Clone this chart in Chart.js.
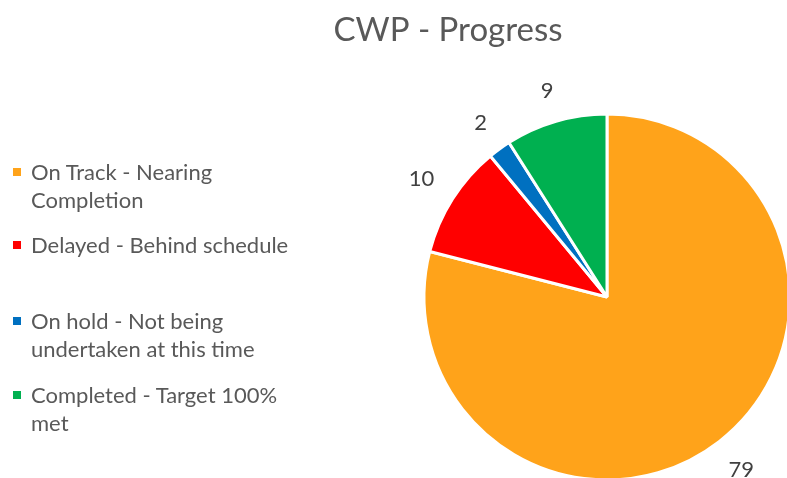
<!DOCTYPE html>
<html>
<head>
<meta charset="utf-8">
<script src="https://cdn.jsdelivr.net/npm/chart.js@4/dist/chart.umd.min.js"></script>
<style>
  html, body { margin: 0; padding: 0; width: 787px; height: 478px; overflow: hidden; background: #fff; }
  #wrap { position: relative; width: 787px; height: 478px; overflow: hidden; }
  #chart { position: absolute; left: 0; top: 0; }
  #legend { position: absolute; left: 0; top: 0; font-family: Lato, "Open Sans", sans-serif; font-size: 22px; color: #595959; }
  .item { position: absolute; left: 31px; width: 290px; line-height: 28px; }
  .item .sw { position: absolute; left: -18px; top: 10px; width: 8px; height: 8px; }
</style>
</head>
<body>
<div id="wrap">
  <canvas id="chart" width="800" height="500"></canvas>
  <div id="legend"></div>
</div>
<script>
const categories = [
  "On Track - Nearing Completion",
  "Delayed - Behind schedule",
  "On hold - Not being undertaken at this time",
  "Completed - Target 100% met"
];
const legendLines = [
  ["On Track - Nearing", "Completion"],
  ["Delayed - Behind schedule"],
  ["On hold - Not being", "undertaken at this time"],
  ["Completed - Target 100%", "met"]
];
const counts = [79, 10, 2, 9];
const colors = ["#FFA31A", "#FF0000", "#0070C0", "#00B050"];
const chartTitle = "CWP - Progress";

// HTML legend, one block per category
const legendTops = [158, 231, 307, 381];
const legend = document.getElementById("legend");
legendLines.forEach((lines, i) => {
  const el = document.createElement("div");
  el.className = "item";
  el.style.top = legendTops[i] + "px";
  el.title = categories[i];
  const sw = document.createElement("span");
  sw.className = "sw";
  sw.style.background = colors[i];
  el.appendChild(sw);
  lines.forEach((t, k) => {
    if (k) el.appendChild(document.createElement("br"));
    el.appendChild(document.createTextNode(t));
  });
  legend.appendChild(el);
});

const FONT = 'Lato, "Open Sans", sans-serif';

// Title drawn at a fixed spot above the pie
const titlePlugin = {
  id: "fixedTitle",
  afterDraw(chart) {
    const ctx = chart.ctx;
    ctx.save();
    ctx.font = "33px " + FONT;
    ctx.fillStyle = "#595959";
    ctx.textAlign = "center";
    ctx.textBaseline = "alphabetic";
    ctx.fillText(chartTitle, 448, 41);
    ctx.restore();
  }
};

// Value labels placed just outside each slice
const outsideLabels = {
  id: "outsideLabels",
  afterDatasetsDraw(chart) {
    const ctx = chart.ctx;
    const meta = chart.getDatasetMeta(0);
    ctx.save();
    ctx.font = "22px " + FONT;
    ctx.fillStyle = "#404040";
    ctx.textAlign = "center";
    ctx.textBaseline = "middle";
    meta.data.forEach((arc, i) => {
      const p = arc.getProps(["x", "y", "startAngle", "endAngle", "outerRadius"], true);
      const mid = (p.startAngle + p.endAngle) / 2;
      const dx = Math.cos(mid), dy = Math.sin(mid);
      const txt = String(counts[i]);
      const hw = ctx.measureText(txt).width / 2, hh = 9;
      const d = p.outerRadius + 21 + Math.abs(dx) * hw + Math.abs(dy) * hh;
      ctx.fillText(txt, p.x + dx * d, p.y + dy * d);
    });
    ctx.restore();
  }
};

new Chart(document.getElementById("chart"), {
  type: "pie",
  data: {
    labels: categories,
    datasets: [{
      data: counts,
      backgroundColor: colors,
      borderColor: "#ffffff",
      borderWidth: 3,
      hoverOffset: 0
    }]
  },
  options: {
    responsive: false,
    animation: false,
    radius: 183,
    layout: { padding: { left: 424, right: 10, top: 114, bottom: 20 } },
    plugins: {
      legend: { display: false },
      title: { display: false },
      tooltip: { enabled: false }
    }
  },
  plugins: [titlePlugin, outsideLabels]
});
</script>
</body>
</html>
